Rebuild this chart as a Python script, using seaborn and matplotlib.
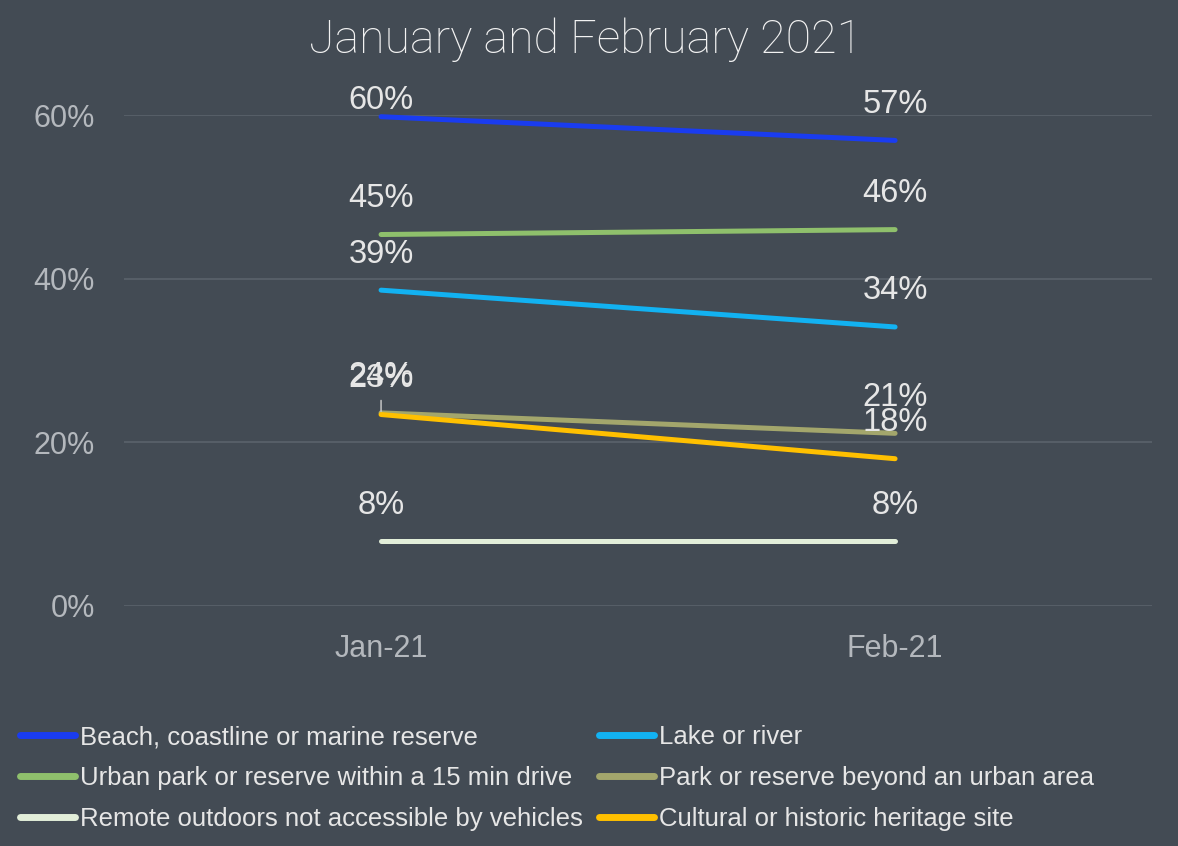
import pandas as pd
import seaborn as sns
import matplotlib.pyplot as plt

months = ['Jan-21', 'Feb-21']
beach = [59.8, 56.9]
lake = [38.6, 34.1]
urban_park = [45.4, 46.0]
park_beyond = [23.6, 21.1]
remote = [7.9, 7.9]
cultural = [23.4, 18.0]
jan_labels = ['60%', '39%', '45%', '24%', '8%', '23%']
feb_labels = ['57%', '34%', '46%', '21%', '8%', '18%']

names = ['Beach, coastline or marine reserve', 'Lake or river',
         'Urban park or reserve within a 15 min drive', 'Park or reserve beyond an urban area',
         'Remote outdoors not accessible by vehicles', 'Cultural or historic heritage site']
series = [beach, lake, urban_park, park_beyond, remote, cultural]
colors = ['#1a3cf0', '#12b2f2', '#8fc06c', '#a3a66c', '#e2eed9', '#ffc000']

rows = []
for name, vals in zip(names, series):
    for m, v in zip(months, vals):
        rows.append({'month': m, 'value': v, 'series': name})
df = pd.DataFrame(rows)

bg = '#434b54'
fig = plt.figure(figsize=(11.78, 8.46), dpi=100, facecolor=bg)
ax = fig.add_axes([0.1053, 0.2837, 0.8727, 0.5803])
ax.set_facecolor(bg)

sns.lineplot(data=df, x='month', y='value', hue='series', hue_order=names,
             palette=colors, linewidth=3.6, ax=ax, sort=False, legend=False,
             solid_capstyle='round')
for line in ax.lines:
    line.set_clip_on(False)

ax.set_xlim(-0.5, 1.5)
ax.set_ylim(0, 60)
ax.set_yticks([0, 20, 40, 60])
ax.set_yticklabels(['0%', '20%', '40%', '60%'])
ax.grid(axis='y', color='#5b626b', linewidth=1.2)
ax.grid(axis='x', visible=False)
for s in ax.spines.values():
    s.set_visible(False)
ax.tick_params(axis='both', length=0, colors='#b4b8bd', labelsize=22)
ax.tick_params(axis='y', pad=21)
ax.tick_params(axis='x', pad=20)
ax.set_xlabel('')
ax.set_ylabel('')
for lab in ax.get_xticklabels() + ax.get_yticklabels():
    lab.set_fontfamily('Liberation Sans')

# value labels
for i, (vals, jl, fl) in enumerate(zip(series, jan_labels, feb_labels)):
    off_jan = 12 if i == 0 else 26
    ax.annotate(jl, (0, vals[0]), xytext=(0, off_jan), textcoords='offset points',
                ha='center', va='center', fontsize=23.5, color='#e6e6e6',
                family='Liberation Sans', annotation_clip=False)
    ax.annotate(fl, (1, vals[1]), xytext=(0, 26), textcoords='offset points',
                ha='center', va='center', fontsize=23.5, color='#e6e6e6',
                family='Liberation Sans', annotation_clip=False)
# small leader under the overlapping Jan labels
ax.annotate('', (0, park_beyond[0]), xytext=(0, 9), textcoords='offset points',
            arrowprops=dict(arrowstyle='-', color='#d0d0d0', lw=1, shrinkA=0, shrinkB=1))

fig.text(586 / 1178, 1 - 40 / 846, 'January and February 2021', ha='center', va='center',
         fontsize=33.5, color='#f2f2f2', family='Roboto', fontweight='light')

handles = [plt.Line2D([], [], color=c, linewidth=5, solid_capstyle='round') for c in colors]
order = [0, 2, 4, 1, 3, 5]
leg = fig.legend([handles[k] for k in order], [names[k] for k in order],
                 loc='upper left', bbox_to_anchor=(0.017, 0.143), ncol=2,
                 frameon=False, fontsize=18.5, handlelength=2.15, handletextpad=0.2,
                 columnspacing=0.6, labelspacing=0.66, borderaxespad=0, borderpad=0)
for t in leg.get_texts():
    t.set_color('#e6e6e6')
    t.set_fontfamily('Liberation Sans')

fig.savefig('out.png', dpi=100, facecolor=bg)
